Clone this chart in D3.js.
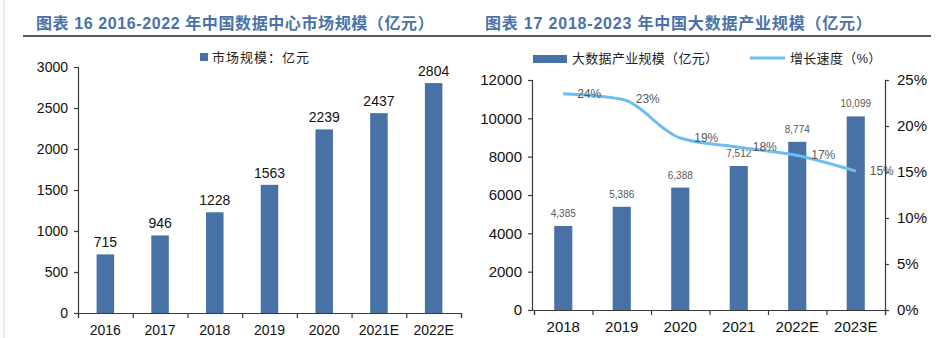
<!DOCTYPE html>
<html>
<head>
<meta charset="utf-8">
<script src="https://cdn.jsdelivr.net/npm/d3@7"></script>
<style>
  html, body { margin: 0; padding: 0; background: #fff; }
  svg { display: block; }
  text { font-family: "Liberation Sans", Arial, "Noto Sans CJK SC", sans-serif; }
  .cjk { font-family: "Liberation Sans", "Noto Sans CJK SC", sans-serif; }
</style>
</head>
<body>
<svg id="chart" width="941" height="338"></svg>
<script>
// Chart 16: data center market size
const dcTitle = "图表 16 2016-2022 年中国数据中心市场规模（亿元）";
const dcLegend = "市场规模：亿元";
const dcYears = ["2016", "2017", "2018", "2019", "2020", "2021E", "2022E"];
const dcValues = [715, 946, 1228, 1563, 2239, 2437, 2804];
const dcTicks = [0, 500, 1000, 1500, 2000, 2500, 3000];

// Chart 17: big data industry size and growth rate
const bdTitle = "图表 17 2018-2023 年中国大数据产业规模（亿元）";
const bdBarLegend = "大数据产业规模（亿元）";
const bdLineLegend = "增长速度（%）";
const bdYears = ["2018", "2019", "2020", "2021", "2022E", "2023E"];
const bdValues = [4385, 5386, 6388, 7512, 8774, 10099];
const bdGrowth = [0.235, 0.229, 0.187, 0.177, 0.168, 0.151];
const bdTicks = [0, 2000, 4000, 6000, 8000, 10000, 12000];
const bdRateTicks = [0, 0.05, 0.10, 0.15, 0.20, 0.25];

const barColor = "#4872a6";
const lineColor = "#6cbdf0";
const titleColor = "#4a72a8";
const axisColor = "#3a3a3a";

const svg = d3.select("#chart");

// page frame: thin left border and header rule
svg.append("line").attr("x1", 4).attr("x2", 4).attr("y1", 0).attr("y2", 338)
  .attr("stroke", "#d4d4d4").attr("stroke-width", 1);
svg.append("line").attr("x1", 23).attr("x2", 931).attr("y1", 36).attr("y2", 36)
  .attr("stroke", "#222").attr("stroke-width", 1.5);

svg.append("text").attr("class", "cjk").attr("x", 36).attr("y", 29)
  .attr("font-size", 16).attr("font-weight", "bold").attr("fill", titleColor)
  .attr("letter-spacing", 0.6)
  .text(dcTitle);
svg.append("text").attr("class", "cjk").attr("x", 485).attr("y", 29)
  .attr("font-size", 16).attr("font-weight", "bold").attr("fill", titleColor)
  .attr("letter-spacing", 0.8)
  .text(bdTitle);

function styleAxis(g) {
  g.select(".domain").attr("stroke", axisColor).attr("stroke-width", 1.2);
  g.selectAll(".tick line").attr("stroke", axisColor).attr("stroke-width", 1.2);
  g.selectAll(".tick text").attr("fill", "#111");
}

// ---------- left chart ----------
{
  const x = d3.scaleBand().domain(dcYears).range([78, 461]).paddingInner(0.68).paddingOuter(0.34);
  const xb = d3.scaleLinear().domain([0, dcYears.length]).range([78, 461]);
  const y = d3.scaleLinear().domain([0, 3000]).range([313, 67]);

  // legend
  svg.append("rect").attr("x", 200).attr("y", 53).attr("width", 8).attr("height", 8).attr("fill", barColor);
  svg.append("text").attr("class", "cjk").attr("x", 212).attr("y", 62)
    .attr("font-size", 13).attr("letter-spacing", 1).attr("fill", "#222").text(dcLegend);

  svg.append("g").selectAll("rect").data(dcValues).join("rect")
    .attr("x", (d, i) => x(dcYears[i]))
    .attr("width", x.bandwidth())
    .attr("y", d => y(d))
    .attr("height", d => y(0) - y(d))
    .attr("fill", barColor);

  svg.append("g").selectAll("text").data(dcValues).join("text")
    .attr("x", (d, i) => x(dcYears[i]) + x.bandwidth() / 2)
    .attr("y", d => y(d) - 7)
    .attr("text-anchor", "middle").attr("font-size", 14).attr("fill", "#111")
    .text(d => d);

  const ya = svg.append("g").attr("transform", "translate(78,0)")
    .call(d3.axisLeft(y).tickValues(dcTicks).tickSize(4).tickPadding(6).tickFormat(d3.format("d")))
    .attr("font-size", 14);
  styleAxis(ya);

  // x axis: ticks at category boundaries
  const xa = svg.append("g").attr("transform", "translate(0,313)")
    .call(d3.axisBottom(xb).tickValues(d3.range(0, dcYears.length + 1)).tickSize(5).tickFormat(""));
  styleAxis(xa);
  svg.append("g").selectAll("text").data(dcYears).join("text")
    .attr("x", d => x(d) + x.bandwidth() / 2).attr("y", 335)
    .attr("text-anchor", "middle").attr("font-size", 14).attr("fill", "#111")
    .text(d => d);
}

// ---------- right chart ----------
{
  const x = d3.scaleBand().domain(bdYears).range([534, 885]).paddingInner(0.69).paddingOuter(0.345);
  const xb = d3.scaleLinear().domain([0, bdYears.length]).range([534, 885]);
  const y = d3.scaleLinear().domain([0, 12000]).range([310, 80]);
  const yr = d3.scaleLinear().domain([0, 0.25]).range([310, 80]);
  const cx = d => x(d) + x.bandwidth() / 2;

  // legend
  svg.append("rect").attr("x", 533).attr("y", 55).attr("width", 34).attr("height", 8).attr("fill", barColor);
  svg.append("text").attr("class", "cjk").attr("x", 572).attr("y", 63)
    .attr("font-size", 13).attr("letter-spacing", 0.3).attr("fill", "#222").text(bdBarLegend);
  svg.append("line").attr("x1", 750).attr("x2", 785).attr("y1", 58).attr("y2", 58)
    .attr("stroke", lineColor).attr("stroke-width", 3);
  svg.append("text").attr("class", "cjk").attr("x", 790).attr("y", 63)
    .attr("font-size", 13).attr("letter-spacing", 0.3).attr("fill", "#222").text(bdLineLegend);

  svg.append("g").selectAll("rect").data(bdValues).join("rect")
    .attr("x", (d, i) => x(bdYears[i]))
    .attr("width", x.bandwidth())
    .attr("y", d => y(d))
    .attr("height", d => y(0) - y(d))
    .attr("fill", barColor);

  svg.append("g").selectAll("text").data(bdValues).join("text")
    .attr("x", (d, i) => cx(bdYears[i]))
    .attr("y", d => y(d) - 9)
    .attr("text-anchor", "middle").attr("font-size", 10).attr("fill", "#595959")
    .text(d => d3.format(",")(d));

  const yl = svg.append("g").attr("transform", "translate(532,0)")
    .call(d3.axisLeft(y).tickValues(bdTicks).tickSize(4).tickPadding(6).tickFormat(d3.format("d")))
    .attr("font-size", 15);
  styleAxis(yl);

  const yra = svg.append("g").attr("transform", "translate(885,0)")
    .call(d3.axisRight(yr).tickValues(bdRateTicks).tickSize(4).tickPadding(8).tickFormat(d3.format(".0%")))
    .attr("font-size", 15);
  styleAxis(yra);

  const xa = svg.append("g").attr("transform", "translate(0,310)")
    .call(d3.axisBottom(xb).tickValues(d3.range(0, bdYears.length + 1)).tickSize(5).tickFormat(""));
  styleAxis(xa);
  svg.append("line").attr("x1", 532).attr("x2", 534).attr("y1", 310).attr("y2", 310)
    .attr("stroke", axisColor).attr("stroke-width", 1.2);
  svg.append("g").selectAll("text").data(bdYears).join("text")
    .attr("x", d => cx(d)).attr("y", 332)
    .attr("text-anchor", "middle").attr("font-size", 15).attr("fill", "#111")
    .text(d => d);

  // growth rate line
  const line = d3.line()
    .x((d, i) => cx(bdYears[i]))
    .y(d => yr(d))
    .curve(d3.curveMonotoneX);
  svg.append("path").datum(bdGrowth)
    .attr("d", line).attr("fill", "none")
    .attr("stroke", lineColor).attr("stroke-width", 3);

  svg.append("g").selectAll("text").data(bdGrowth).join("text")
    .attr("x", (d, i) => cx(bdYears[i]) + 26)
    .attr("y", d => yr(d) + 4)
    .attr("text-anchor", "middle").attr("font-size", 12).attr("fill", "#595959")
    .text(d => d3.format(".0%")(d));
}
</script>
</body>
</html>
